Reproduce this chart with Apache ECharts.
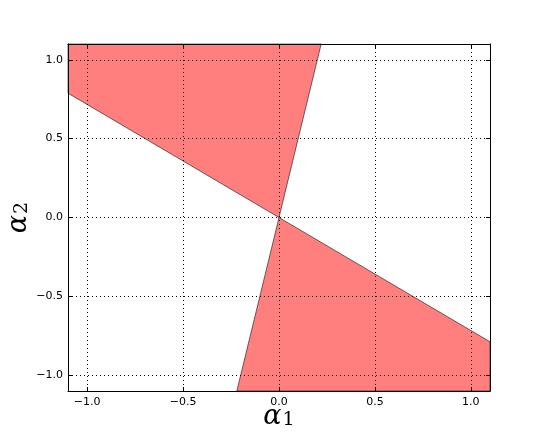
<!DOCTYPE html>
<html>
<head>
<meta charset="utf-8">
<script src="https://cdn.jsdelivr.net/npm/echarts@6/dist/echarts.min.js"></script>
<style>
html, body { margin: 0; padding: 0; background: #fff; }
#main { width: 545px; height: 436px; }
</style>
</head>
<body>
<div id="main"></div>
<script>
// axis range and tick labels
var axisMin = -1.1, axisMax = 1.1;
var tickValues = [-1.0, -0.5, 0.0, 0.5, 1.0];

// the two shaded wedges (data coordinates, clipped to the axis range)
var regionUpper = [[-1.1, 1.1], [0.22, 1.1], [0, 0], [-1.1, 0.788]];
var regionLower = [[1.1, -1.1], [-0.22, -1.1], [0, 0], [1.1, -0.788]];
var regions = [regionUpper, regionLower];

function fmt(v) {
    var s = Number(v).toFixed(1);
    return s.charAt(0) === '-' ? '\u2212' + s.slice(1) : s;
}

var tickStyle = { inside: true, length: 4, lineStyle: { color: '#000' }, customValues: tickValues };
var gridStyle = { show: true, lineStyle: { color: '#000', type: [1, 3], width: 1 } };
var spine = { show: true, onZero: false, lineStyle: { color: '#000', width: 1 } };
var labelFont = { color: '#000', fontSize: 11, fontFamily: 'DejaVu Sans', customValues: tickValues, formatter: fmt };
var nameRich = {
    a: { fontSize: 27, fontFamily: 'DejaVu Serif', fontStyle: 'italic', color: '#000', verticalAlign: 'top', lineHeight: 27 },
    s: { fontSize: 19, fontFamily: 'DejaVu Serif', color: '#000', verticalAlign: 'bottom', lineHeight: 19, padding: [16, 0, 0, 1] }
};

var option = {
    animation: false,
    backgroundColor: '#fff',
    grid: { left: 68, right: 55, top: 44, bottom: 45, containLabel: false, outerBoundsMode: 'none' },
    xAxis: [{
        type: 'value', min: axisMin, max: axisMax, z: 10,
        axisLine: spine, axisTick: tickStyle, splitLine: gridStyle,
        axisLabel: Object.assign({ margin: 6 }, labelFont),
        name: '{a|α}{s|1}', nameLocation: 'middle', nameGap: 12, nameMoveOverlap: false,
        nameTextStyle: { rich: nameRich }
    }, {
        type: 'value', min: axisMin, max: axisMax, position: 'top', z: 10,
        axisLine: spine, axisTick: tickStyle, splitLine: { show: false },
        axisLabel: { show: false }
    }],
    yAxis: [{
        type: 'value', min: axisMin, max: axisMax, z: 10,
        axisLine: spine, axisTick: tickStyle, splitLine: gridStyle,
        axisLabel: Object.assign({ margin: 5 }, labelFont),
        name: '{a|α}{s|2}', nameLocation: 'middle', nameGap: 36, nameRotate: 90, nameMoveOverlap: false,
        nameTextStyle: { rich: nameRich }
    }, {
        type: 'value', min: axisMin, max: axisMax, position: 'right', z: 10,
        axisLine: spine, axisTick: tickStyle, splitLine: { show: false },
        axisLabel: { show: false }
    }],
    series: [{
        type: 'custom',
        coordinateSystem: 'cartesian2d',
        data: [0, 1],
        renderItem: function (params, api) {
            var pts = regions[params.dataIndex].map(function (p) { return api.coord(p); });
            return {
                type: 'polygon',
                shape: { points: pts },
                style: { fill: 'rgba(255,0,0,0.5)', stroke: 'rgba(0,0,0,0.55)', lineWidth: 1 }
            };
        }
    }]
};

var myChart = echarts.init(document.getElementById('main'));
myChart.setOption(option);
</script>
</body>
</html>
